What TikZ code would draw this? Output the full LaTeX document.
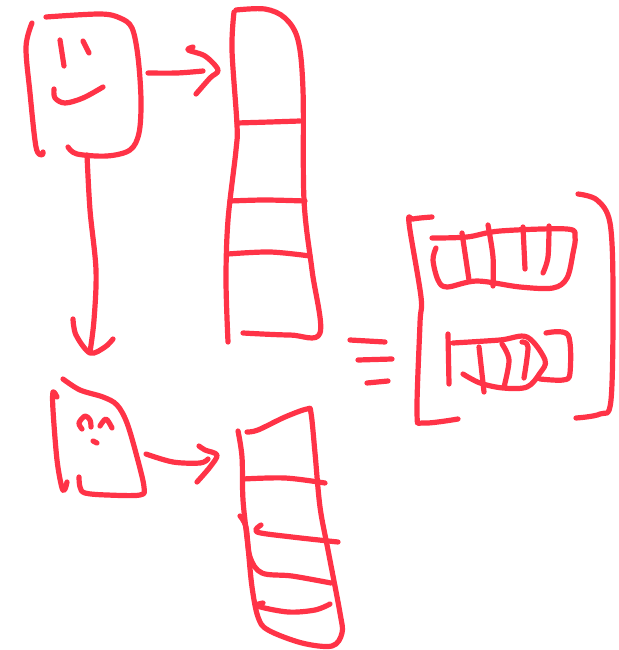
\documentclass[tikz,border=0pt]{standalone}
\definecolor{ink}{HTML}{FF3347}
\tikzset{sk/.style={draw=ink,line width=5.2pt,line cap=round,line join=round}}
\newcommand{\stroke}[1]{\draw[sk] plot[smooth,tension=0.55] coordinates {#1};}
\begin{document}
\begin{tikzpicture}[x=1pt,y=-1pt]
\useasboundingbox (0,0) rectangle (618,650);
% big face
\stroke{(32,23)(26,47)(30,93)(36,147)(42,155)(43,152)}
\stroke{(46,17)(100,14)(120,18)(132,28)(138,57)(141,100)(139,133)(130,150)(107,156)(77,154)(68,147)}
\stroke{(60,40)(64,66)}
\stroke{(83,41)(89,53)}
\stroke{(54,89)(55,98)(65,103)(83,98)(103,87)}
% arrow right top
\stroke{(148,73)(177,73)(203,71)}
\stroke{(193,47)(188,50)(205,56)(218,70)(210,78)(196,94)}
% column 1
\stroke{(234,12)(232,50)(237,125)(236,150)(228,220)(226,280)(228,342)}
\stroke{(236,10)(265,9)(285,18)(298,40)(303,90)(304,200)(312,270)(320,333)(290,335)(243,333)}
\stroke{(237,123)(270,122)(300,121)}
\stroke{(230,201)(265,200)(305,201)}
\stroke{(228,254)(270,252)(310,256)}
% arrow down
\stroke{(87,155)(90,210)(96,270)(94,320)(90,352)}
\stroke{(73,319)(76,335)(90,353)(105,347)(113,339)}
% small face
\stroke{(63,379)(80,390)(103,397)(117,405)(127,423)(137,457)(144,487)(140,495)(107,495)(85,493)(80,487)(79,477)}
\stroke{(57,397)(53,392)(53,410)(57,460)(62,488)(65,489)(67,482)}
\stroke{(82,429)(79,423)(85,416)(90,420)(91,427)}
\stroke{(100,426)(106,419)(112,428)}
\stroke{(93,441)(97,443)}
% arrow right bottom
\stroke{(146,454)(173,462)(200,463)(208,459)}
\stroke{(199,446)(205,450)(217,455)(210,467)(197,482)}
% column 2
\stroke{(238,431)(242,457)(243,500)(248,547)(252,587)(258,617)(268,630)(302,643)(332,646)(342,633)(340,613)(328,550)(320,507)(315,453)(311,413)(307,409)(285,417)(258,430)(247,432)}
\stroke{(243,479)(285,478)(325,483)}
\stroke{(240,516)(246,527)(250,557)(262,573)(292,576)(331,583)}
\stroke{(261,525)(257,532)(292,537)(338,542)}
\stroke{(263,603)(257,606)(288,612)(315,610)(330,604)}
% equals
\stroke{(350,340)(385,342)}
\stroke{(358,360)(392,359)}
\stroke{(367,383)(388,381)}
% brackets
\stroke{(432,217)(413,219)(409,223)(421,297)(420,323)(417,413)(423,423)(458,419)}
\stroke{(578,194)(597,200)(610,223)(613,290)(611,400)(600,414)(576,418)}
% top row
\stroke{(432,238)(467,237)(500,231)(567,229)(575,237)(573,253)(567,278)(553,288)(520,287)(477,281)(447,287)(438,280)(433,260)(436,248)}
\stroke{(462,233)(469,280)}
\stroke{(488,225)(493,257)(493,286)}
\stroke{(523,227)(525,269)}
\stroke{(549,226)(548,257)(543,273)}
% bottom row
\stroke{(448,334)(449,384)}
\stroke{(453,343)(500,340)(527,337)(545,360)(540,373)(527,387)(503,388)(480,383)(463,374)}
\stroke{(479,347)(484,392)}
\stroke{(502,344)(509,360)(504,387)}
\stroke{(522,342)(528,347)(524,378)}
\stroke{(546,333)(568,335)(570,373)(563,380)(540,379)}
\end{tikzpicture}
\end{document}
